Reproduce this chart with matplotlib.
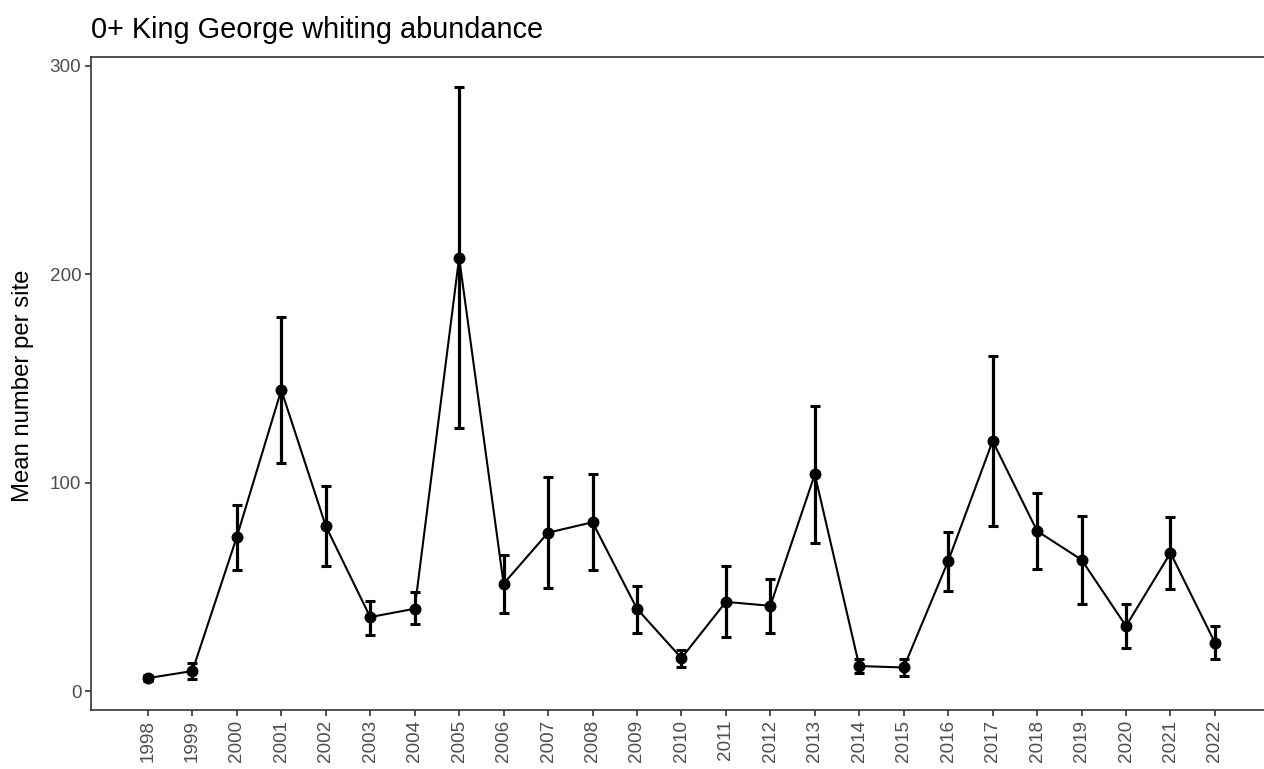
import matplotlib
matplotlib.use("Agg")
import matplotlib.pyplot as plt

plt.rcParams['font.family'] = ['Liberation Sans', 'DejaVu Sans']

# Datos
anios = [1998, 1999, 2000, 2001, 2002, 2003, 2004, 2005, 2006, 2007, 2008, 2009, 2010,
         2011, 2012, 2013, 2014, 2015, 2016, 2017, 2018, 2019, 2020, 2021, 2022]
media = [6.2, 9.6, 74.0, 144.5, 79.2, 35.5, 39.5, 208.0, 51.5, 76.0, 81.0, 39.5, 15.8,
         42.8, 40.9, 104.0, 12.0, 11.3, 62.4, 120.0, 76.8, 63.0, 31.2, 66.3, 23.2]
inferior = [4.8, 5.6, 58.3, 109.5, 60.0, 27.0, 32.0, 126.3, 37.3, 49.4, 58.0, 27.8, 11.6,
            26.0, 27.9, 71.2, 8.8, 7.2, 48.1, 79.0, 58.5, 41.9, 20.5, 49.2, 15.3]
superior = [7.6, 13.6, 89.5, 179.5, 98.5, 43.2, 47.3, 290.0, 65.5, 102.8, 104.0, 50.3, 19.8,
            60.2, 54.0, 137.0, 15.3, 15.4, 76.4, 161.0, 95.0, 84.1, 41.9, 83.5, 31.0]

titulo = "0+ King George whiting abundance"
etiqueta_y = "Mean number per site"

W, H = 1264, 769
fig = plt.figure(figsize=(W / 100, H / 100), dpi=100)
# Posicion del panel en pixeles (izq 91, der fuera del lienzo, arriba 57, abajo 710)
ax = fig.add_axes([91 / W, 1 - 710 / H, (1268 - 91) / W, (710 - 57) / H])

err = [[m - lo for m, lo in zip(media, inferior)], [hi - m for m, hi in zip(media, superior)]]

ax.plot(anios, media, "-", color="black", linewidth=1.5, zorder=2)
ax.errorbar(anios, media, yerr=err, fmt="none", ecolor="black", elinewidth=2.3,
            capsize=3.6, capthick=2.2, zorder=3)
ax.plot(anios, media, "o", color="black", markersize=7.6, linestyle="none", zorder=4)

ax.set_xlim(1996.72, 1996.72 + (1268 - 91) / 44.46)
ax.set_ylim(-9.1, 304.3)
ax.set_xticks(anios)
ax.set_xticklabels([str(a) for a in anios], rotation=90)
ax.set_yticks([0, 100, 200, 300])

for lado in ["left", "bottom", "top", "right"]:
    ax.spines[lado].set_color("#333333")
    ax.spines[lado].set_linewidth(1.2)

ax.tick_params(axis="both", colors="#333333", length=4, width=1.2, labelsize=13.6,
               labelcolor="#4D4D4D", pad=3)

fig.text(91 / W, 1 - 38 / H, titulo, fontsize=20.8, color="black", ha="left", va="baseline")
fig.text(23 / W, 1 - 386 / H, etiqueta_y, fontsize=17.2, color="black", rotation=90,
         ha="center", va="center")

fig.savefig("out.png", dpi=100)
